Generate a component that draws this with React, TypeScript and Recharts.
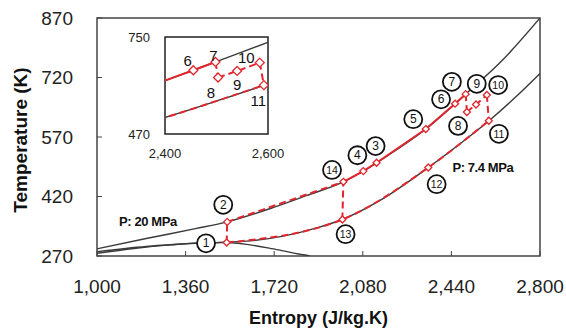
import React from 'react';
import { ComposedChart, Line, Scatter, XAxis, YAxis, ReferenceArea } from 'recharts';

// axes
const sTicks = [1000, 1360, 1720, 2080, 2440, 2800];
const tTicks = [270, 420, 570, 720, 870];
const insetSTicks = [2400, 2600];
const insetTTicks = [470, 750];

// P: 20 MPa isobar
const highS = [1000, 1200, 1400, 1529, 1720, 1850, 2001, 2082, 2136, 2336, 2455, 2498, 2648, 2800];
const highT = [288, 314, 339, 356, 393, 422, 457, 484, 505, 590, 654, 678, 764, 870];

// P: 7.4 MPa isobar
const lowS = [1000, 1200, 1400, 1527, 1622, 1757, 1900, 1997, 2150, 2346, 2500, 2593, 2700, 2800];
const lowT = [281, 294, 302, 305, 308, 320, 342, 362, 410, 493, 565, 611, 670, 730];

// saturation dome
const domeS = [1000, 1150, 1300, 1420, 1527, 1622, 1700, 1757, 1820, 1866];
const domeT = [277, 289, 298, 303, 304, 298, 290, 283, 275, 270];

// cycle state points 1..14
const stateS = [1527, 1529, 2136, 2082, 2336, 2455, 2498, 2503, 2540, 2584, 2592, 2346, 1997, 2001];
const stateT = [304, 356, 505, 484, 590, 654, 678, 633, 652, 676, 611, 493, 362, 457];

// paths through the states
const heatPath = [14, 4, 3, 5, 6, 7];
const dashPaths = [[1, 2], [2, 14], [7, 8], [8, 9, 10], [10, 11], [1, 13, 12, 11], [13, 14]];

// circled state numbers
const tagNo = [1, 2, 3, 4, 5, 6, 7, 8, 9, 10, 11, 12, 13, 14];
const tagS = [1443, 1513, 2132, 2058, 2285, 2398, 2442, 2467, 2543, 2630, 2633, 2380, 2010, 1955];
const tagT = [302, 399, 547, 524, 615, 665, 709, 598, 704, 701, 578, 451, 325, 487];

// pressure notes
const noteText = ['P: 20 MPa', 'P: 7.4 MPa'];
const noteS = [1207, 2568];
const noteT = [356, 492];

// inset state numbers
const insetNo = [6, 7, 8, 9, 10, 11];
const insetLabS = [2444, 2494, 2489, 2540, 2558, 2581];
const insetLabT = [682, 697, 591, 613, 692, 566];

const RED = '#e1262d';
const CURVE = '#3a3a3a';

const zip = (xs: number[], ys: number[]) => xs.map((s, i) => ({ s, T: ys[i] }));
const pts = (ids: number[]) => ids.map((n) => ({ s: stateS[n - 1], T: stateT[n - 1] }));

const highData = zip(highS, highT);
const lowData = zip(lowS, lowT);
const domeData = zip(domeS, domeT);
const stateData = zip(stateS, stateT);
const tagData = tagNo.map((n, i) => ({ n, s: tagS[i], T: tagT[i] }));
const noteData = noteText.map((txt, i) => ({ txt, s: noteS[i], T: noteT[i] }));
const insetLabData = insetNo.map((n, i) => ({ n, s: insetLabS[i], T: insetLabT[i] }));

const diamond = (r: number) => (p: any) => {
  const { cx, cy } = p;
  return (
    <path
      d={`M${cx},${cy - r}L${cx + r},${cy}L${cx},${cy + r}L${cx - r},${cy}Z`}
      fill="#fff"
      stroke={RED}
      strokeWidth={1.3}
    />
  );
};

const CircleTag = (p: any) => (
  <g>
    <circle cx={p.cx} cy={p.cy} r={9} fill="#fff" stroke="#111" strokeWidth={1.8} />
    <text x={p.cx} y={p.cy} textAnchor="middle" dominantBaseline="central" fontSize={p.payload.n > 9 ? 10.5 : 12} fill="#111">
      {p.payload.n}
    </text>
  </g>
);

const Note = (p: any) => (
  <text x={p.cx} y={p.cy} textAnchor="middle" dominantBaseline="central" fontSize={13} fontWeight="bold" fill="#111" letterSpacing={-0.4}>
    {p.payload.txt}
  </text>
);

const InsetNum = (p: any) => (
  <text x={p.cx} y={p.cy} textAnchor="middle" dominantBaseline="central" fontSize={15} fill="#111">
    {p.payload.n}
  </text>
);

const XTitle = (p: any) => {
  const vb = p.viewBox;
  return (
    <text x={vb.x + vb.width / 2} y={vb.y + vb.height - 9} textAnchor="middle" fontSize={18} fontWeight="bold" fill="#111">
      Entropy (J/kg.K)
    </text>
  );
};

const YTitle = (p: any) => {
  const vb = p.viewBox;
  const x = vb.x + 20;
  const y = vb.y + vb.height / 2 + 3;
  return (
    <text x={x} y={y} transform={`rotate(-90, ${x}, ${y})`} textAnchor="middle" dominantBaseline="central" fontSize={19} fontWeight="bold" fill="#111">
      Temperature (K)
    </text>
  );
};

const curves = () => [
  <Line key="dome" data={domeData} dataKey="T" type="monotone" stroke={CURVE} strokeWidth={1.4} dot={false} isAnimationActive={false} />,
  <Line key="low" data={lowData} dataKey="T" type="monotone" stroke={CURVE} strokeWidth={1.4} dot={false} isAnimationActive={false} />,
  <Line key="high" data={highData} dataKey="T" type="monotone" stroke={CURVE} strokeWidth={1.4} dot={false} isAnimationActive={false} />,
  <Line key="heat" data={pts(heatPath)} dataKey="T" type="linear" stroke={RED} strokeWidth={2} dot={false} isAnimationActive={false} />,
  ...dashPaths.map((path, i) => (
    <Line key={'d' + i} data={pts(path)} dataKey="T" type="monotone" stroke={RED} strokeWidth={2} strokeDasharray="7 4" dot={false} isAnimationActive={false} />
  )),
];

export default function App() {
  return (
    <div style={{ position: 'absolute', left: 0, top: 0, width: 566, height: 333, background: '#fff', fontFamily: '"Liberation Sans", Arial, sans-serif' }}>
      <ComposedChart width={566} height={333} margin={{ top: 18, right: 26, bottom: 0, left: 0 }}>
        <XAxis
          type="number"
          dataKey="s"
          domain={[1000, 2800]}
          ticks={sTicks}
          allowDataOverflow
          height={77}
          axisLine={false}
          tickSize={-5}
          tickMargin={29}
          tickLine={{ stroke: '#444' }}
          tick={{ fontSize: 19, fill: '#222' }}
          tickFormatter={(v: number) => v.toLocaleString('en-US')}
          label={XTitle}
        />
        <YAxis
          type="number"
          dataKey="T"
          domain={[270, 870]}
          ticks={tTicks}
          allowDataOverflow
          width={97}
          axisLine={false}
          tickSize={-5}
          tickMargin={29}
          tickLine={{ stroke: '#444' }}
          tick={{ fontSize: 19, fill: '#222' }}
          label={YTitle}
        />
        {curves()}
        <Scatter data={stateData} dataKey="T" shape={diamond(3.5)} isAnimationActive={false} />
        <Scatter data={tagData} dataKey="T" shape={CircleTag} isAnimationActive={false} />
        <Scatter data={noteData} dataKey="T" shape={Note} isAnimationActive={false} />
        <ReferenceArea x1={1000} x2={2800} y1={270} y2={870} fill="none" stroke="#444" strokeWidth={1.5} />
      </ComposedChart>

      <div style={{ position: 'absolute', left: 120, top: 29 }}>
        <ComposedChart width={168} height={135} margin={{ top: 8, right: 20, bottom: 0, left: 0 }}>
          <ReferenceArea x1={2400} x2={2600} y1={470} y2={750} fill="#fff" fillOpacity={1} stroke="none" />
          <XAxis
            type="number"
            dataKey="s"
            domain={[2400, 2600]}
            ticks={insetSTicks}
            allowDataOverflow
            height={30}
            axisLine={false}
            tickLine={false}
            tickSize={0}
            tickMargin={15}
            tick={{ fontSize: 13, fill: '#222' }}
            tickFormatter={(v: number) => v.toLocaleString('en-US')}
          />
          <YAxis
            type="number"
            dataKey="T"
            domain={[470, 750]}
            ticks={insetTTicks}
            allowDataOverflow
            width={45}
            axisLine={false}
            tickLine={false}
            tickSize={0}
            tickMargin={15}
            tick={{ fontSize: 13, fill: '#222' }}
          />
          {curves()}
          <Scatter data={stateData} dataKey="T" shape={diamond(4.5)} isAnimationActive={false} />
          <Scatter data={insetLabData} dataKey="T" shape={InsetNum} isAnimationActive={false} />
          <ReferenceArea x1={2400} x2={2600} y1={470} y2={750} fill="none" stroke="#222" strokeWidth={1.5} />
        </ComposedChart>
      </div>
    </div>
  );
}
